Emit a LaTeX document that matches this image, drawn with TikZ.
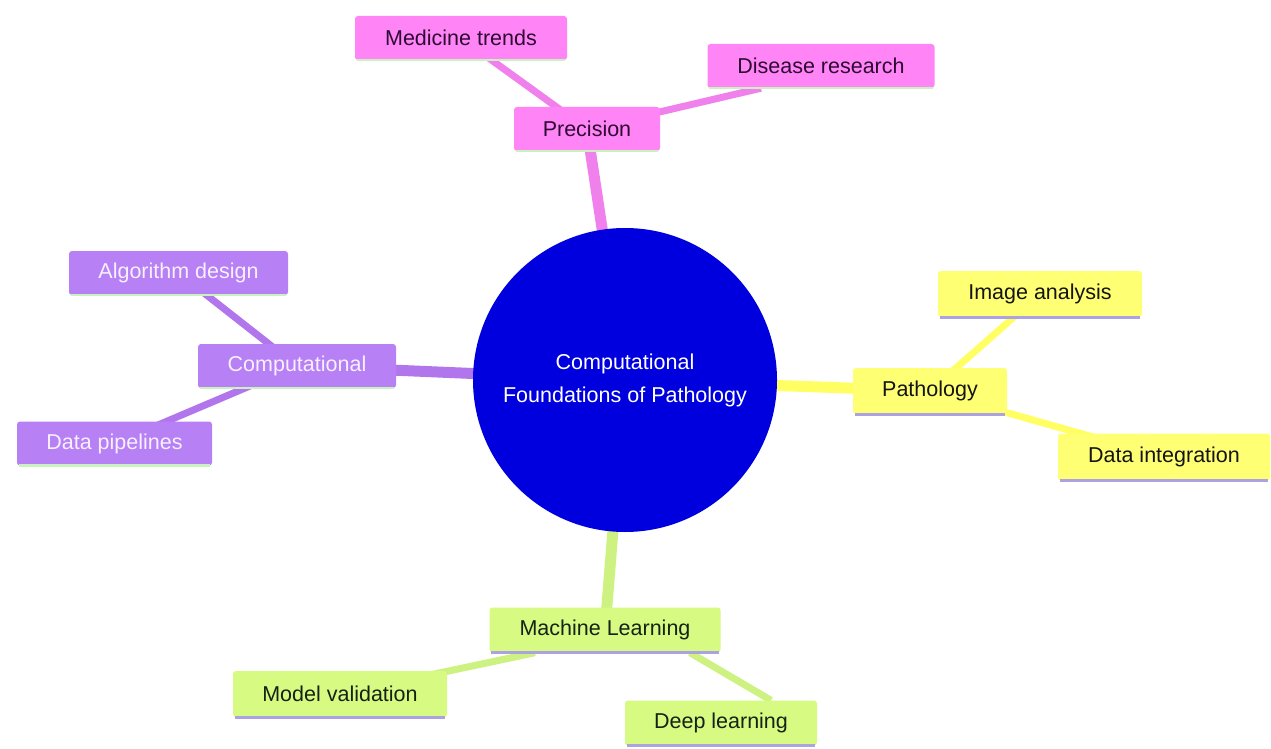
\documentclass[tikz,border=0pt]{standalone}
\usepackage{fontspec}
\setmainfont{Liberation Sans}
\usetikzlibrary{backgrounds,calc}
\definecolor{pinkF}{RGB}{255,132,245}
\definecolor{pinkE}{RGB}{240,128,236}
\definecolor{pinkT}{RGB}{45,10,50}
\definecolor{purpF}{RGB}{184,128,245}
\definecolor{purpE}{RGB}{178,118,236}
\definecolor{purpT}{RGB}{246,240,255}
\definecolor{yellF}{RGB}{255,255,115}
\definecolor{yellE}{RGB}{255,255,100}
\definecolor{yellT}{RGB}{20,20,20}
\definecolor{greeF}{RGB}{215,250,130}
\definecolor{greeE}{RGB}{206,242,130}
\definecolor{greeT}{RGB}{20,35,20}
\definecolor{hubF}{RGB}{0,0,222}
\definecolor{lineG}{RGB}{200,242,190}
\definecolor{lineL}{RGB}{172,162,226}
\tikzset{
  box/.style={rectangle, rounded corners=3pt, inner sep=0pt, anchor=center,
    font=\fontsize{21.5}{25}\selectfont},
  pinkbox/.style={box, fill=pinkF, text=pinkT},
  purpbox/.style={box, fill=purpF, text=purpT},
  yellbox/.style={box, fill=yellF, text=yellT},
  greebox/.style={box, fill=greeF, text=greeT},
  hubedge/.style={line width=11pt},
  leafedge/.style={line width=7pt},
  underG/.style={draw=lineG, line width=2.5pt},
  underL/.style={draw=lineL, line width=3pt},
}
\begin{document}
\begin{tikzpicture}[x=1pt,y=-1pt]
\useasboundingbox (0,0) rectangle (1271,749);
% hub
\node[circle, fill=hubF, minimum size=304pt, inner sep=0pt, text=white, align=center,
  font=\fontsize{21.5}{33}\selectfont] (hub) at (625,380) {Computational\\Foundations of Pathology};
% pink
\node[pinkbox, minimum width=212pt, minimum height=44pt] (med) at (461,38) {Medicine trends};
\node[pinkbox, minimum width=227pt, minimum height=44pt] (dis) at (821,66) {Disease research};
\node[pinkbox, minimum width=146pt, minimum height=44pt] (prec) at (587,129) {Precision};
% purple
\node[purpbox, minimum width=219pt, minimum height=44pt] (alg) at (178.5,273) {Algorithm design};
\node[purpbox, minimum width=198pt, minimum height=44pt] (comp) at (297,366) {Computational};
\node[purpbox, minimum width=195pt, minimum height=44pt] (pipe) at (114.5,443.5) {Data pipelines};
% yellow
\node[yellbox, minimum width=204pt, minimum height=46pt] (img) at (1040,294) {Image analysis};
\node[yellbox, minimum width=154pt, minimum height=46pt] (path) at (930,391) {Pathology};
\node[yellbox, minimum width=212pt, minimum height=47pt] (integ) at (1164,457) {Data integration};
% green
\node[greebox, minimum width=231pt, minimum height=45pt] (ml) at (605,630) {Machine Learning};
\node[greebox, minimum width=214pt, minimum height=46pt] (mv) at (340,694) {Model validation};
\node[greebox, minimum width=192pt, minimum height=45pt] (deep) at (721,723) {Deep learning};
% underlines
\foreach \n in {med,dis,prec,alg,comp,pipe}
  \draw[underG] ([xshift=2pt]\n.south west) -- ([xshift=-2pt]\n.south east);
\foreach \n in {img,path,integ,ml,mv,deep}
  \draw[underL] ([xshift=2pt]\n.south west) -- ([xshift=-2pt]\n.south east);
% edges
\begin{pgfonlayer}{background}
\fill[white] (0,0) rectangle (1271,749);
\draw[pinkE, hubedge] (hub.center) -- (prec.center);
\draw[pinkE, leafedge] (prec.center) -- (med.center);
\draw[pinkE, leafedge] (prec.center) -- ([xshift=-60pt]dis.south);
\draw[purpE, hubedge] (hub.center) -- (comp.center);
\draw[purpE, leafedge] (comp.center) -- (alg.center);
\draw[purpE, leafedge] (comp.center) -- (pipe.center);
\draw[yellE, hubedge] (hub.center) -- (path.center);
\draw[yellE, leafedge] (path.center) -- (img.center);
\draw[yellE, leafedge] (path.center) -- (integ.center);
\draw[greeE, hubedge] (hub.center) -- (ml.center);
\draw[greeE, leafedge] ([xshift=-70pt]ml.south) -- (mv.center);
\draw[greeE, leafedge] ([xshift=85pt]ml.south) -- ([xshift=50pt]deep.north);
\end{pgfonlayer}
\end{tikzpicture}
\end{document}
